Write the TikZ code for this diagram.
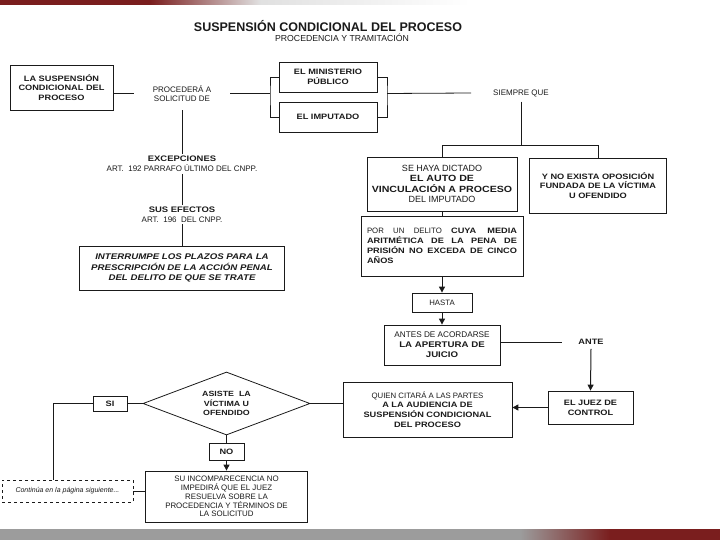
\documentclass[tikz,border=0pt]{standalone}
\usepackage{fontspec}
\setmainfont{Liberation Sans}[BoldFeatures={FakeStretch=1.18},BoldItalicFeatures={FakeStretch=1.18}]
\newfontfamily\titlefont{Liberation Sans}
\usetikzlibrary{arrows.meta,positioning,shapes.geometric}
\definecolor{barred}{HTML}{7A1E1E}
\definecolor{bargray}{HTML}{9C9C9C}
\definecolor{ink}{HTML}{1A1A1A}
\tikzset{
  box/.style      = {draw=ink, line width=0.8pt, rectangle, align=center,
                     inner sep=2pt, text=ink, font=\fontsize{7.8}{9.8}\selectfont},
  boldbox/.style  = {box, font=\fontsize{7.8}{9.8}\selectfont\bfseries},
  note/.style     = {align=center, inner sep=2pt, text=ink,
                     font=\fontsize{8}{9.8}\selectfont},
  decision/.style = {diamond, draw=ink, line width=0.8pt, aspect=2.65,
                     inner sep=0pt, align=center, text=ink,
                     font=\fontsize{7.5}{9.5}\selectfont\bfseries},
  link/.style     = {draw=ink, line width=0.8pt},
  sig/.style      = {link, line width=1pt, -{Triangle[length=6pt,width=6pt]}},
}

\begin{document}
\begin{tikzpicture}[x=1pt, y=-1pt]
\useasboundingbox (0,0) rectangle (720,540);
% ---- page bars ----
\fill[barred] (0,0) rectangle (150,5);
\shade[left color=barred, right color=black!12] (150,0) rectangle (260,5);
\shade[left color=black!12, right color=white] (260,0) rectangle (470,5);
\fill[bargray] (0,529) rectangle (520,540);
\shade[left color=bargray, right color=barred] (520,529) rectangle (610,540);
\fill[barred] (610,529) rectangle (720,540);
% ---- heading ----
\node[note, font=\titlefont\bfseries\fontsize{12.5}{14}\selectfont] (title) at (328,26)
  {SUSPENSIÓN CONDICIONAL DEL PROCESO};
\node[note, font=\fontsize{8.7}{10}\selectfont] (subtitle) at (342,38)
  {PROCEDENCIA Y TRAMITACIÓN};
% ---- who may request it ----
\node[boldbox, minimum width=103pt, minimum height=45pt] (scp) at (61.5,87.5)
  {LA SUSPENSIÓN\\CONDICIONAL DEL\\PROCESO};
\node[note, inner xsep=19pt, inner ysep=8pt] (procede) at (182,93.5)
  {PROCEDERÁ A\\SOLICITUD DE};
\node[boldbox, minimum width=98pt, minimum height=30pt] (mp) at (328,77)
  {EL MINISTERIO\\PÚBLICO};
\node[boldbox, minimum width=98pt, minimum height=30pt] (imp) at (328,117)
  {EL IMPUTADO};
\coordinate (brl) at (270,93.5);
\coordinate (brr) at (387,93.5);
\node[note, inner xsep=22pt, inner ysep=5pt] (siempre) at (521,93) {SIEMPRE QUE};
\draw[link] (procede.west -| scp.east) -- (procede.west);
\draw[link] (procede.east) -- (brl);
\draw[link] (mp.west) -| (brl) |- (imp.west);
\draw[link] (mp.east) -| (brr) |- (imp.east);
\draw[link] (brr) -- (siempre.west);
% ---- left column: exceptions and effects ----
\node[note] (excep) at (182,164)
  {\textbf{EXCEPCIONES}\\ART.\ \ 192 PARRAFO ÚLTIMO DEL CNPP.};
\node[note] (efectos) at (182,214.5)
  {\textbf{SUS EFECTOS}\\ART.\ \ 196\ \ DEL CNPP.};
\node[box, minimum width=205pt, minimum height=44pt,
      font=\fontsize{8.2}{10.5}\selectfont\bfseries\itshape] (interr) at (182,268)
  {INTERRUMPE LOS PLAZOS PARA LA\\PRESCRIPCIÓN DE LA ACCIÓN PENAL\\DEL DELITO DE QUE SE TRATE};
\draw[link] (procede.south) -- (excep.north);
\draw[link] (excep.south) -- (efectos.north);
\draw[link] (efectos.south) -- (interr.north);
% ---- conditions ----
\coordinate (split) at (521,145);
\node[box, minimum width=150pt, minimum height=54pt,
      font=\fontsize{9}{10.3}\selectfont] (dictado) at (442,184)
  {SE HAYA DICTADO\\\textbf{EL AUTO DE}\\\textbf{VINCULACIÓN A PROCESO}\\DEL IMPUTADO};
\node[boldbox, minimum width=137pt, minimum height=55pt] (oposic) at (598,185.5)
  {Y NO EXISTA OPOSICIÓN\\FUNDADA DE LA VÍCTIMA\\U OFENDIDO};
\node[box, minimum width=162pt, minimum height=60pt, align=left] (delito) at (442,246)
  {\makebox[150pt][s]{POR UN DELITO \textbf{CUYA MEDIA}}\\
   \makebox[150pt][s]{\textbf{ARITMÉTICA DE LA PENA DE}}\\
   \makebox[150pt][s]{\textbf{PRISIÓN NO EXCEDA DE CINCO}}\\
   \textbf{AÑOS}};
\draw[link] (siempre.south) -- (split);
\draw[link] (dictado.north) |- (oposic.north |- split) -- (oposic.north);
\draw[link] (dictado.south) -- (delito.north);
% ---- until when, and before whom ----
\node[box, minimum width=60pt, minimum height=19pt] (hasta) at (442,302.5) {HASTA};
\node[box, minimum width=116pt, minimum height=40pt,
      font=\fontsize{8.2}{10}\selectfont] (antes) at (442,345)
  {ANTES DE ACORDARSE\\\textbf{LA APERTURA DE}\\\textbf{JUICIO}};
\node[note, inner xsep=16pt, inner ysep=4pt, font=\fontsize{7.8}{9.8}\selectfont\bfseries]
  (ante) at (591,342) {ANTE};
\node[boldbox, minimum width=85pt, minimum height=33pt] (juez) at (590.5,407.5)
  {EL JUEZ DE\\CONTROL};
\node[box, minimum width=169pt, minimum height=55pt] (quien) at (427.5,409.5)
  {QUIEN CITARÁ A LAS PARTES\\\textbf{A LA AUDIENCIA DE}\\\textbf{SUSPENSIÓN CONDICIONAL}\\\textbf{DEL PROCESO}};
\draw[sig] (delito.south) -- (hasta.north);
\draw[sig] (hasta.south) -- (antes.north);
\draw[link] (ante.west -| antes.east) -- (ante.west);
\draw[sig] (ante.south) -- (juez.north);
\draw[sig] (juez.west) -- (juez.west -| quien.east);
% ---- hearing ----
\node[decision, minimum width=167pt, minimum height=63pt] (asiste) at (226.5,403.5)
  {ASISTE\ \ LA\\VÍCTIMA U\\OFENDIDO};
\node[boldbox, minimum width=34pt, minimum height=15pt] (si) at (110,403.5) {SI};
\node[boldbox, minimum width=35pt, minimum height=17pt] (no) at (226.5,451.5) {NO};
\node[box, minimum width=162pt, minimum height=51pt,
      font=\fontsize{7.9}{8.8}\selectfont] (incomp) at (226.5,496.5)
  {SU INCOMPARECENCIA NO\\IMPEDIRÁ QUE EL JUEZ\\RESUELVA SOBRE LA\\PROCEDENCIA Y TÉRMINOS DE\\LA SOLICITUD};
\node[box, dashed, minimum width=131pt, minimum height=22pt,
      font=\fontsize{7}{8}\selectfont\itshape] (cont) at (67.5,491)
  {Continúa en la página siguiente...};
\coordinate (turn) at (53,403.5);
\draw[link] (asiste.east) -- (asiste.east -| quien.west);
\draw[link] (si.east) -- (asiste.west);
\draw[link] (si.west) -- (turn) -- (turn |- cont.north);
\draw[link] (asiste.south) -- (no.north);
\draw[sig] (no.south) -- (incomp.north);
\draw[link] (cont.east) -- (cont.east -| incomp.west);
\end{tikzpicture}
\end{document}
